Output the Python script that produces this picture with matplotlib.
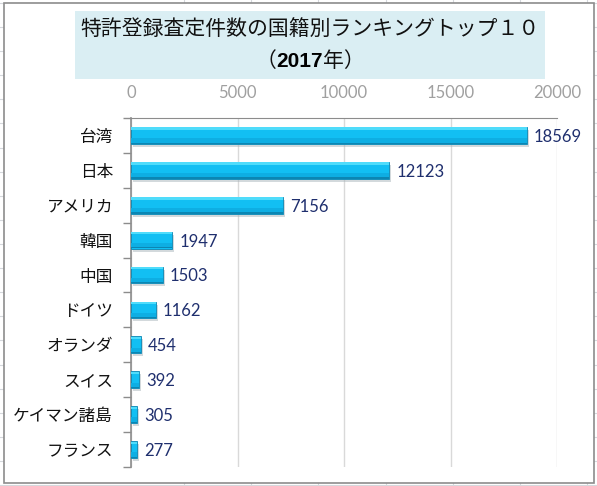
import numpy as np
import matplotlib
matplotlib.use("Agg")
from matplotlib import pyplot as plt
from matplotlib import transforms
from matplotlib.lines import Line2D
from matplotlib.patches import Rectangle
from matplotlib.offsetbox import TextArea, HPacker, AnchoredOffsetbox

plt.rcParams['font.family'] = ['Noto Sans CJK JP', 'DejaVu Sans']

# data (2017, top 10 by nationality)
countries = ["台湾", "日本", "アメリカ", "韓国", "中国", "ドイツ",
             "オランダ", "スイス", "ケイマン諸島", "フランス"]
counts = [18569, 12123, 7156, 1947, 1503, 1162, 454, 392, 305, 277]
x_ticks = [0, 5000, 10000, 15000, 20000]

title_line1 = "特許登録査定件数の国籍別ランキングトップ１０"
num_font = ['Lato', 'DejaVu Sans']

fig = plt.figure(figsize=(5.97, 4.86), dpi=100)

# spreadsheet background + chart frame
bg = fig.add_axes([0, 0, 1, 1])
bg.set_xlim(0, 597)
bg.set_ylim(486, 0)
bg.axis('off')
for yy in np.arange(3, 486, 24.1):
    bg.add_line(Line2D([0, 597], [yy, yy], color='#d5d8dc', lw=0.8, zorder=1))
for xx in np.arange(184, 597, 67.2):
    bg.add_line(Line2D([xx, xx], [0, 486], color='#d5d8dc', lw=0.8, zorder=1))
bg.add_patch(Rectangle((4, 3), 590, 480, facecolor='white',
                       edgecolor='#8c8c8c', lw=1.2, zorder=3))
# title box
bg.add_patch(Rectangle((75, 11), 470, 68, facecolor='#daeef3',
                       edgecolor='none', zorder=4))
bg.text(310, 29, title_line1, ha='center', va='center', fontsize=15,
        color='#111111', zorder=5)
parts = [TextArea("（", textprops=dict(fontsize=15, color='#111111')),
         TextArea("2017", textprops=dict(fontsize=15, color='black',
                                          fontweight='bold',
                                          family=['Liberation Sans', 'DejaVu Sans'])),
         TextArea("年）", textprops=dict(fontsize=15, color='#111111'))]
box = HPacker(children=parts, align='baseline', pad=0, sep=0)
anch = AnchoredOffsetbox(loc='center', child=box, frameon=False,
                         bbox_to_anchor=(310 / 597, 1 - 61 / 486),
                         bbox_transform=fig.transFigure, pad=0, borderpad=0)
anch.set_zorder(6)
bg.add_artist(anch)

# plot area
ax = fig.add_axes([131 / 597, 1 - 467 / 486, (557 - 131) / 597, (467 - 118) / 486])
ax.patch.set_alpha(0)
ypos = np.arange(len(countries))
h = 0.48

# shadow, body, bevel stripes
shadow_tr = ax.transData + transforms.ScaledTranslation(2 / 100, -3 / 100, fig.dpi_scale_trans)
ax.barh(ypos, counts, height=h, color='#a9b4ba', alpha=0.5,
        transform=shadow_tr, zorder=2)
ax.barh(ypos, counts, height=h, color='#12bff3', edgecolor='#0b86b3',
        linewidth=0.6, zorder=3)
ax.barh(ypos - h / 2 + h * 0.09, counts, height=h * 0.14, color='#4fdcfb',
        zorder=4)
ax.barh(ypos + h / 2 - h * 0.18, counts, height=h * 0.3, color='#0eaee3',
        zorder=4)
ax.barh(ypos + h / 2 - h * 0.04, counts, height=h * 0.07, color='#0b86b3',
        zorder=4)

for y, v in zip(ypos, counts):
    ax.annotate(str(v), xy=(v, y), xytext=(5, -1), textcoords='offset points',
                ha='left', va='center', fontsize=12, color='#1f2f6e',
                family=num_font, zorder=5)

ax.set_xlim(0, 20000)
ax.set_ylim(len(countries) - 0.5, -0.5)
ax.set_xticks(x_ticks)
ax.set_xticklabels([str(t) for t in x_ticks], family=num_font)
ax.xaxis.tick_top()
ax.tick_params(axis='x', length=0, pad=12, labelsize=12, labelcolor='#a0a0a0')
ax.grid(axis='x', color='#d9d9d9', lw=1.0, zorder=0)

ax.set_yticks(ypos)
ax.set_yticklabels(countries)
ax.set_yticks(np.arange(-0.5, len(countries), 1), minor=True)
ax.tick_params(axis='y', which='major', length=0, pad=13, labelsize=12,
               labelcolor='#111111')
ax.tick_params(axis='y', which='minor', length=6, color='#8c8c8c', width=1)

for s in ['right', 'bottom']:
    ax.spines[s].set_visible(False)
ax.spines['top'].set_color('#8c8c8c')
ax.spines['left'].set_color('#8c8c8c')
ax.spines['left'].set_linewidth(1.2)

plt.savefig("out.png", dpi=100)
